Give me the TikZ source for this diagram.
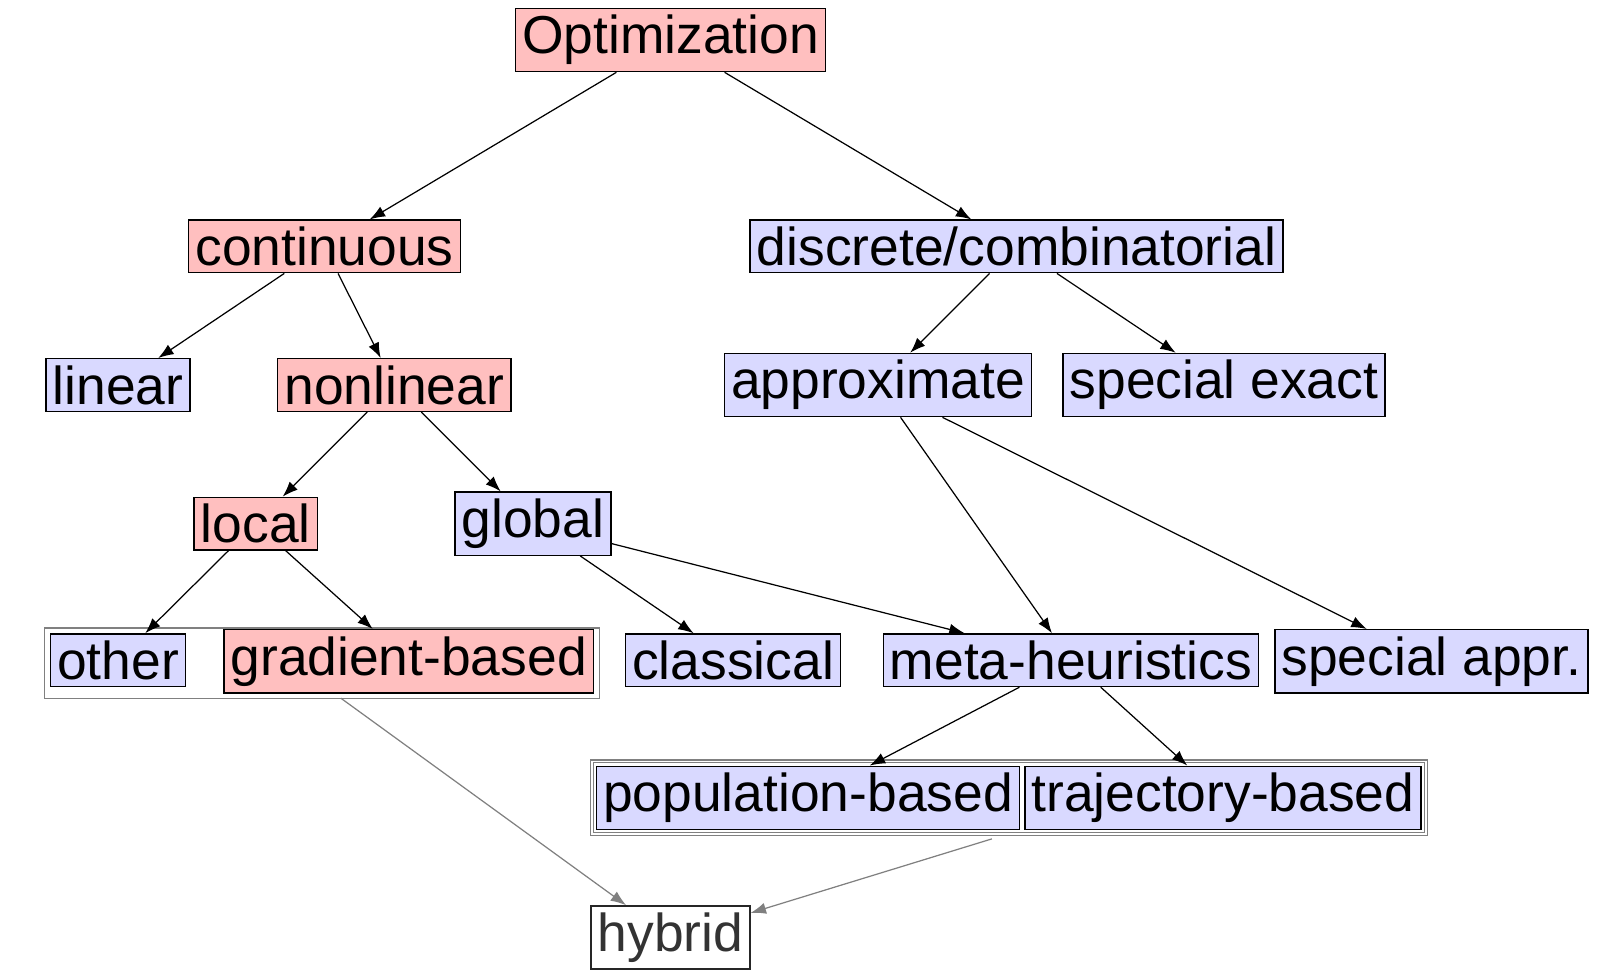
\documentclass[tikz,border=0pt]{standalone}
\usepackage{fontspec}
\setmainfont{Liberation Sans}
\usetikzlibrary{arrows.meta,fit}

\definecolor{contred}{RGB}{255,191,191}
\definecolor{discblue}{RGB}{217,217,255}

\tikzset{
  box/.style={draw=black, line width=0.7pt, inner sep=3.25pt,
    font=\fontsize{26}{30}\selectfont},
  redbox/.style={box, fill=contred},
  bluebox/.style={box, fill=discblue},
  hybbox/.style={box, draw=black!85, fill=white, text=black!80},
  arr/.style={-{Latex[length=7.5pt,width=5.5pt]}, line width=0.6pt},
  grayarr/.style={-{Latex[length=7.5pt,width=5.5pt]}, line width=0.6pt, gray},
  group/.style={draw=gray, line width=0.6pt, inner sep=0pt}
}

\begin{document}
\begin{tikzpicture}[x=0.5pt,y=-0.5pt]
	\useasboundingbox (0,0) rectangle (1568,952);

	% root
	\node [redbox] (opt) at (653,39) {Optimization};

	% continuous branch
	\node [redbox]  (cont)   at (316,240) {continuous};
	\node [bluebox] (lin)    at (115,375) {linear};
	\node [redbox]  (nonlin) at (384,375) {nonlinear};
	\node [redbox]  (loc)    at (249,510) {local};
	\node [bluebox] (glob)   at (519,510) {global};
	\node [bluebox] (other)  at (115,643) {other};
	\node [redbox]  (grad)   at (398,644) {gradient-based};
	\node [bluebox] (class)  at (714,643) {classical};

	% discrete branch
	\node [bluebox] (disc)   at (990,240) {discrete/combinatorial};
	\node [bluebox] (approx) at (855,375) {approximate};
	\node [bluebox] (specex) at (1192,375) {special exact};
	\node [bluebox] (meta)   at (1043,643) {meta-heuristics};
	\node [bluebox] (specap) at (1394,644) {special appr.};
	\node [bluebox] (pop)    at (787,777) {population-based};
	\node [bluebox] (traj)   at (1191,777) {trajectory-based};

	% hybrid
	\node [hybbox] (hybrid) at (653,913) {hybrid};

	% groups
	\node [group, fit=(other)(grad), inner xsep=2.5pt, inner ysep=1.5pt,
	       yshift=-1pt] (grplocal) {};
	\node [group, double, double distance=0.8pt, fit=(pop)(traj),
	       inner sep=2pt] (grpmeta) {};

	% edges
	\draw [arr] (opt) -- (cont);
	\draw [arr] (opt) -- (disc);
	\draw [arr] (cont) -- (lin);
	\draw [arr] (cont) -- (nonlin);
	\draw [arr] (nonlin) -- (loc);
	\draw [arr] (nonlin) -- (glob);
	\draw [arr] (loc) -- (other);
	\draw [arr] (loc) -- (grad);
	\draw [arr] (glob) -- (class);
	\draw [arr] (glob) -- (meta);
	\draw [arr] (disc) -- (approx);
	\draw [arr] (disc) -- (specex);
	\draw [arr] (approx) -- (meta);
	\draw [arr] (approx) -- (specap);
	\draw [arr] (meta) -- (pop);
	\draw [arr] (meta) -- (traj);

	% to hybrid
	\coordinate (gradout) at (332,680);
	\coordinate (metaout) at (966,817);
	\draw [grayarr] (gradout) -- (hybrid);
	\draw [grayarr] (metaout) -- (hybrid);

\end{tikzpicture}
\end{document}
